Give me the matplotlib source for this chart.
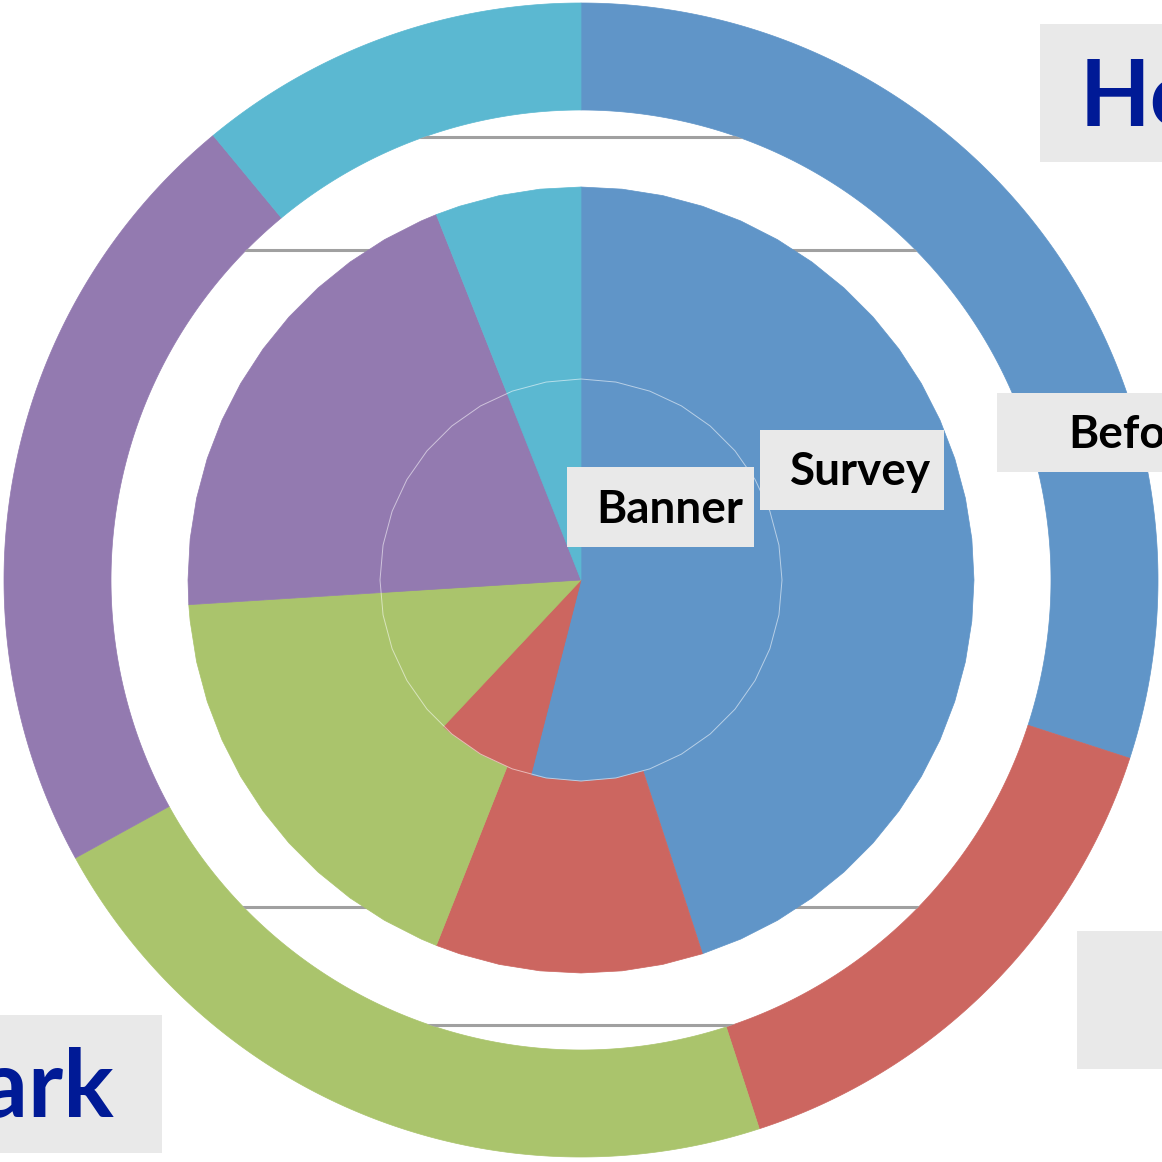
import numpy as np
import matplotlib
matplotlib.use("Agg")
import matplotlib.pyplot as plt
from matplotlib.patches import Polygon, Rectangle, Circle

# ---- data ----
categories = ["Blue", "Red", "Green", "Purple", "Cyan"]
outer_values = [30, 15, 22, 22, 11]
middle_values = [45, 11, 18, 20, 6]
inner_values = [54, 8, 12, 20, 6]
colors = ["#6095C8", "#CC6660", "#AAC46C", "#937AB0", "#5BB8D1"]
gridline_levels = [137, 250, 907, 1025]

W = 1162
CX, CY = 581, 580
R_OUT, R_OUT_IN = 577, 470
R_MID = 393
R_IN = 201

fig = plt.figure(figsize=(W / 100, W / 100), dpi=100)
ax = fig.add_axes([0, 0, 1, 1])
ax.set_xlim(0, W)
ax.set_ylim(W, 0)
ax.set_aspect("equal")
ax.axis("off")


def pt(r, a):
    t = np.deg2rad(a)
    return (CX + r * np.sin(t), CY - r * np.cos(t))


def ring_sector(a0, a1, r0, r1, step=0.5):
    angs = np.arange(a0, a1, step).tolist() + [a1]
    outer = [pt(r1, a) for a in angs]
    inner = [pt(r0, a) for a in angs[::-1]]
    return outer + inner


def coarse_sector(a0, a1, r, n=60):
    st = 360.0 / n
    angs = [a0] + [k * st for k in range(n + 1) if a0 < k * st < a1] + [a1]
    return [(CX, CY)] + [pt(r, a) for a in angs]


def angles(vals):
    tot = float(sum(vals))
    c = np.concatenate([[0], np.cumsum(vals)]) / tot * 360
    return list(zip(c[:-1], c[1:]))


# outer ring
for (a0, a1), col in zip(angles(outer_values), colors):
    ax.add_patch(Polygon(ring_sector(a0, a1, R_OUT_IN, R_OUT), closed=True,
                         facecolor=col, edgecolor=col, lw=0.5, zorder=1))

# gridlines inside the ring hole
clip = Circle((CX, CY), R_OUT_IN, transform=ax.transData, visible=False)
ax.add_patch(clip)
for y in gridline_levels:
    ln, = ax.plot([0, W], [y, y], color="#A0A0A0", lw=2.2, zorder=2)
    ln.set_clip_path(clip)

# middle pie
for (a0, a1), col in zip(angles(middle_values), colors):
    ax.add_patch(Polygon(coarse_sector(a0, a1, R_MID), closed=True,
                         facecolor=col, edgecolor=col, lw=0.5, zorder=3))

# inner pie
for (a0, a1), col in zip(angles(inner_values), colors):
    ax.add_patch(Polygon(coarse_sector(a0, a1, R_IN, n=36), closed=True,
                         facecolor=col, edgecolor=col, lw=0.5, zorder=4))
circ = [pt(R_IN, a) for a in np.arange(0, 360.1, 10)]
ax.add_patch(Polygon(circ, closed=True, fill=False, edgecolor="white",
                     lw=0.7, alpha=0.55, zorder=5))

# ---- labels ----
BOX = "#E9E9E9"
NAVY = "#001A96"
FONT = ["Lato", "DejaVu Sans"]


def box(x0, y0, x1, y1):
    ax.add_patch(Rectangle((x0, y0), x1 - x0, y1 - y0, facecolor=BOX,
                           edgecolor="none", zorder=6))


box(1040, 24, 1200, 162)
ax.text(1080, 126, "How", color=NAVY, fontsize=66, fontweight="bold",
        family=FONT, ha="left", va="baseline", zorder=7)

box(997, 393, 1200, 472)
ax.text(1068, 448, "Before", color="black", fontsize=33, fontweight="bold",
        family=FONT, ha="left", va="baseline", zorder=7)

box(760, 430, 944, 510)
ax.text(790, 485, "Survey", color="black", fontsize=33, fontweight="bold",
        family=FONT, ha="left", va="baseline", zorder=7)

box(567, 467, 754, 547)
ax.text(596, 523, "Banner", color="black", fontsize=33, fontweight="bold",
        family=FONT, ha="left", va="baseline", zorder=7)

box(-10, 1015, 162, 1153)
ax.text(114, 1117, "Benchmark", color=NAVY, fontsize=68, fontweight="bold",
        family=FONT, ha="right", va="baseline", zorder=7)

box(1077, 931, 1200, 1069)

fig.savefig("out.png", dpi=100)
